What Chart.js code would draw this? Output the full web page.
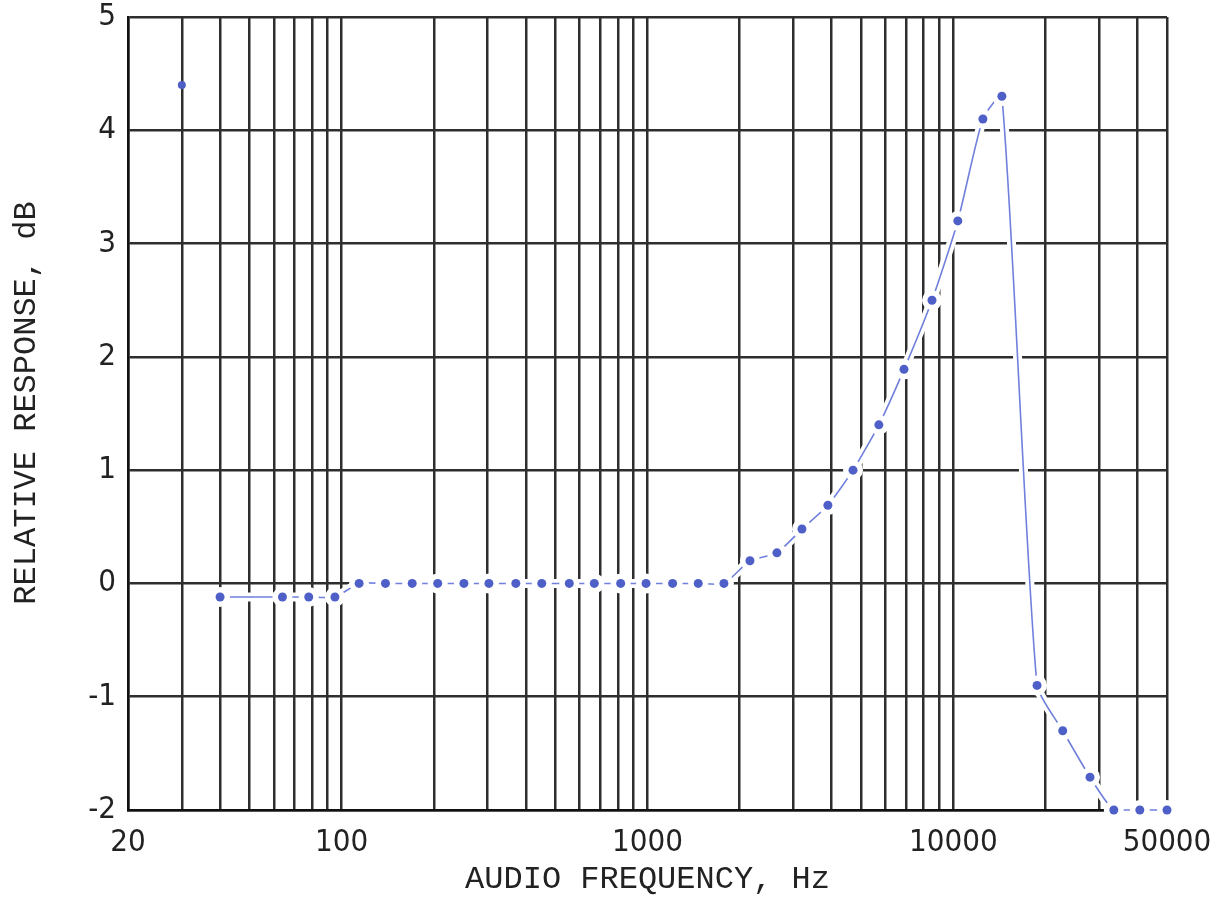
<!DOCTYPE html>
<html>
<head>
<meta charset="utf-8">
<script src="https://cdn.jsdelivr.net/npm/chart.js@4/dist/chart.umd.min.js"></script>
<style>
    html, body { margin: 0; padding: 0; background: #fff; }
</style>
</head>
<body>
<canvas id="responseChart" width="1217" height="900"></canvas>
<script>
const freqHz = [40, 64, 78, 95, 114, 139, 170, 206, 251, 303, 371, 451, 555, 670, 817, 989,
    1208, 1465, 1778, 2163, 2650, 3200, 3890, 4700, 5710, 6900, 8520, 10350, 12500, 14420,
    18790, 22800, 28000, 33500, 40750, 50000];
const responseDb = [-0.12, -0.12, -0.12, -0.12, 0, 0, 0, 0, 0, 0, 0, 0, 0, 0, 0, 0,
    0, 0, 0, 0.2, 0.27, 0.48, 0.69, 1.0, 1.4, 1.89, 2.5, 3.2, 4.1, 4.3,
    -0.9, -1.3, -1.71, -2.0, -2.0, -2.0];

// the lone dot near the top left
const strayHz = [30];
const strayDb = [4.4];

const gridHz = [20, 30, 40, 50, 60, 70, 80, 90,
    100, 200, 300, 400, 500, 600, 700, 800, 900,
    1000, 2000, 3000, 4000, 5000, 6000, 7000, 8000, 9000,
    10000, 20000, 30000, 40000, 50000];
const labelHz = [20, 100, 1000, 10000, 50000];
const dbTicks = [-2, -1, 0, 1, 2, 3, 4, 5];

const xTitle = 'AUDIO FREQUENCY, Hz';
const yTitle = 'RELATIVE RESPONSE, dB';

const lineBlue = 'rgb(112, 128, 220)';
const dotBlue = 'rgb(78, 96, 200)';
const gridInk = '#2e2e2e';
const textInk = '#222';

const pts = (xs, ys) => xs.map((x, i) => ({x: x, y: ys[i]}));
const curve = pts(freqHz, responseDb);

const axisTitles = {
    id: 'axisTitles',
    afterDraw(chart) {
        const {ctx, chartArea} = chart;
        ctx.save();
        ctx.fillStyle = textInk;
        ctx.font = '32px "Liberation Mono", "DejaVu Sans Mono", monospace';
        ctx.textAlign = 'center';
        ctx.textBaseline = 'middle';
        ctx.fillText(xTitle, (chartArea.left + chartArea.right) / 2, 880);
        ctx.translate(27, 403);
        ctx.rotate(-Math.PI / 2);
        ctx.fillText(yTitle, 0, 0);
        ctx.restore();
    }
};

const tickFont = {family: '"Liberation Sans Narrow", "DejaVu Sans Condensed", sans-serif', size: 31};

new Chart(document.getElementById('responseChart').getContext('2d'), {
    type: 'line',
    data: {
        datasets: [
            {
                // white halo under the curve, breaks the grid like the plotter did
                data: curve, order: 5, borderColor: '#fff', borderWidth: 9,
                pointRadius: 0, tension: 0.2, clip: false
            },
            {
                data: curve, order: 4, borderColor: lineBlue, borderWidth: 1.6,
                pointRadius: 0, tension: 0.2, clip: false
            },
            {
                data: curve, order: 3, showLine: false, pointRadius: 10,
                pointBackgroundColor: '#fff', pointBorderWidth: 0, clip: false
            },
            {
                data: curve, order: 2, showLine: false, pointRadius: 4.5,
                pointBackgroundColor: dotBlue, pointBorderWidth: 0, clip: false
            },
            {
                data: pts(strayHz, strayDb), order: 1, showLine: false, pointRadius: 4,
                pointBackgroundColor: dotBlue, pointBorderWidth: 0, clip: false
            }
        ]
    },
    options: {
        responsive: false,
        animation: false,
        events: [],
        layout: {padding: {top: 17, right: 50, left: 0, bottom: 0}},
        plugins: {legend: {display: false}, tooltip: {enabled: false}},
        scales: {
            x: {
                type: 'logarithmic',
                min: 20,
                max: 50000,
                afterBuildTicks: (scale) => {
                    scale.ticks = gridHz.map(v => ({value: v}));
                },
                afterFit: (scale) => {
                    scale.height = 90;
                    scale.paddingLeft = 0;
                    scale.paddingRight = 0;
                },
                grid: {color: gridInk, lineWidth: 2.5, drawTicks: false},
                border: {color: '#111', width: 2.5},
                ticks: {
                    autoSkip: false,
                    maxRotation: 0,
                    padding: 14,
                    color: textInk,
                    font: tickFont,
                    callback: (v) => labelHz.includes(v) ? String(v) : ''
                }
            },
            y: {
                min: -2,
                max: 5,
                afterBuildTicks: (scale) => {
                    scale.ticks = dbTicks.map(v => ({value: v}));
                },
                afterFit: (scale) => {
                    scale.width = 128;
                    scale.paddingTop = 0;
                    scale.paddingBottom = 0;
                },
                grid: {color: gridInk, lineWidth: 2.5, drawTicks: false},
                border: {color: '#111', width: 2.5},
                ticks: {
                    padding: 12,
                    color: textInk,
                    font: tickFont
                }
            }
        }
    },
    plugins: [axisTitles]
});
</script>
</body>
</html>
